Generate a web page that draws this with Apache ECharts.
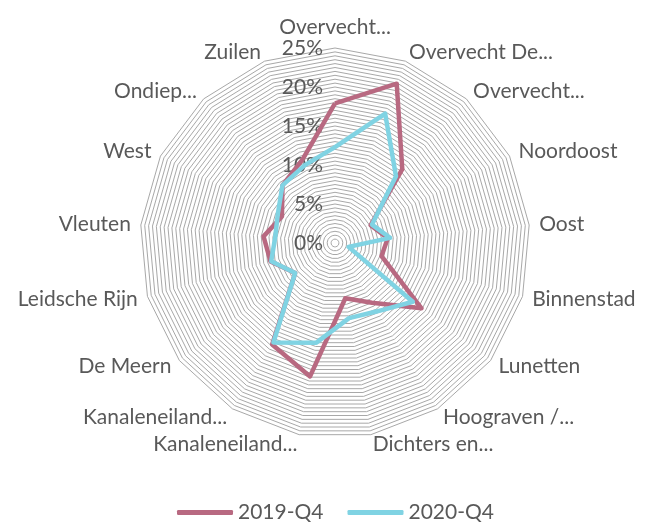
<!DOCTYPE html>
<html><head><meta charset="utf-8">
<script src="https://cdn.jsdelivr.net/npm/echarts@6/dist/echarts.min.js"></script>
<style>html,body{margin:0;padding:0;background:#fff}#c{width:646px;height:525px}</style>
</head><body><div id="c"></div>
<script>
const categories = ["Overvecht...", "Overvecht De...", "Overvecht...", "Noordoost", "Oost", "Binnenstad", "Lunetten", "Hoograven /...", "Dichters en...", "Kanaleneiland...", "Kanaleneiland...", "De Meern", "Leidsche Rijn", "Vleuten", "West", "Ondiep...", "Zuilen"];
const values2019 = [17.9, 21.9, 12.8, 5.1, 6.8, 6.2, 13.9, 9.0, 7.2, 17.4, 15.3, 6.4, 8.6, 9.2, 7.6, 10.0, 11.5];
const values2020 = [12.3, 17.8, 11.6, 5.3, 7.1, 1.8, 12.5, 10.3, 9.8, 13.0, 15.0, 6.4, 8.5, 7.7, 8.2, 10.0, 10.7];
const seriesNames = ["2019-Q4", "2020-Q4"];
const tickLabels = [0, 5, 10, 15, 20, 25];
const axisMax = 25;
const ringCount = 50;

const FONT = 'Lato';
const TXT = '#595959';

// ECharts radar runs counter-clockwise; reorder so categories run clockwise like the reference
const order = [0];
for (let i = categories.length - 1; i >= 1; i--) order.push(i);

const indicator = order.map((k, j) => {
  const o = { name: categories[k], min: 0, max: axisMax };
  if (j === 0) o.axisLabel = { show: true };
  return o;
});
const v19 = order.map(k => values2019[k]);
const v20 = order.map(k => values2020[k]);

const chart = echarts.init(document.getElementById('c'), null, { renderer: 'canvas' });
chart.setOption({
  backgroundColor: '#ffffff',
  animation: false,
  legend: {
    data: seriesNames,
    top: 497,
    left: 172,
    icon: 'roundRect',
    itemWidth: 56,
    itemHeight: 5,
    itemGap: 24,
    textStyle: { color: TXT, fontSize: 21, fontFamily: FONT }
  },
  radar: {
    center: [335, 243],
    radius: 195,
    startAngle: 90,
    shape: 'polygon',
    splitNumber: ringCount,
    indicator: indicator,
    nameGap: 10,
    axisName: { color: TXT, fontSize: 21, fontFamily: FONT },
    axisLine: { show: false },
    axisTick: { show: false },
    splitArea: { show: false },
    splitLine: { lineStyle: { color: '#a8a8a8', width: 1 } },
    axisLabel: {
      show: false,
      color: TXT, fontSize: 21, fontFamily: FONT,
      margin: 12,
      formatter: function (v) {
        const r = Math.round(v * 100) / 100;
        return tickLabels.indexOf(r) >= 0 ? r + '%' : '';
      }
    }
  },
  series: [{
    type: 'radar',
    symbol: 'none',
    data: [
      { name: seriesNames[0], value: v19, lineStyle: { color: '#b86981', width: 4.5 }, itemStyle: { color: '#b86981' } },
      { name: seriesNames[1], value: v20, lineStyle: { color: '#80d3e3', width: 4.5 }, itemStyle: { color: '#80d3e3' } }
    ]
  }]
});
</script>
</body></html>
